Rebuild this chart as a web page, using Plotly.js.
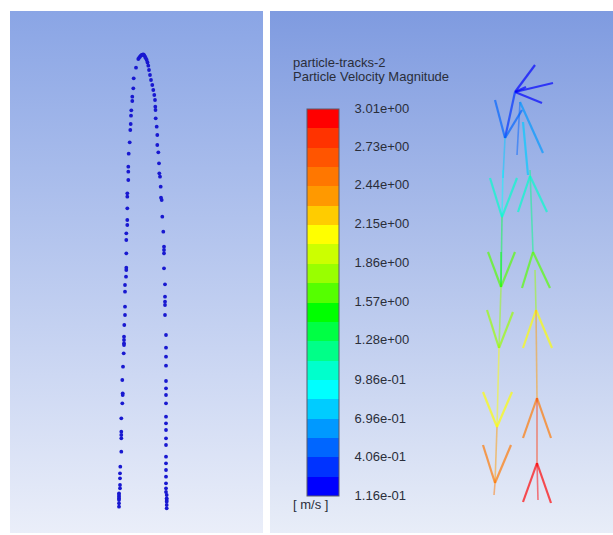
<!DOCTYPE html>
<html><head><meta charset="utf-8">
<script src="https://cdn.plot.ly/plotly-3.0.1.min.js"></script>
<style>
html,body{margin:0;padding:0;background:#fff;}
#chart{width:613px;height:535px;background:
 linear-gradient(#8aa5e5,#eaeef9) 10px 11px / 253px 522px no-repeat,
 linear-gradient(#7f9be0,#e8edf8) 270px 11px / 343px 522px no-repeat,#fff;}
</style></head><body><div id="chart"></div>
<script>
// ---- Left panel: particle positions (dots) ----
const dotX = [
  // apex
  138.3,139.2,140,140.8,141.7,142.5,143.3,144.2,145,145.8,146.7,
  // left leg
  136,133.7,133.3,132.3,132.3,131.3,131,130.7,130.3,129.7,128.7,128.3,128.3,128.3,127.3,127.3,127.3,127.3,127.3,126.3,126.3,126.3,126.3,126.3,
  126,125,125,125,125,124.3,124,124,124,124,123.7,123,122.3,122.7,122.7,122.3,121.3,121.3,121.3,121.3,121.3,120.3,120,120,120,120,119,119,119,119,119,119,119,
  // right leg
  147.5,148.3,149,150,151,152.3,153.3,154.3,155,155.3,155.5,155.7,156.7,157.3,157.3,158.3,159,159.3,160,160.7,161,161.7,162.3,163.3,164,164,164,164,
  165,165,165,165,165,166,166,166,166,166,166,166,166,166,166,166,166,166,166,166,166,166,166,166,166,166.7,166.7,166.7,166.7,166.7,166.7,166.7
];
const dotY = [
  59,57.7,56.7,55.6,55,54.6,54.3,55.2,56.7,58.2,60,
  67.7,78.3,88.3,96.7,101,110.3,115.7,124,130,142.3,153.7,166.7,171.7,180,193.3,196.7,208.3,220,225,233.3,240,253.3,267.7,270,
  276.7,285,291.7,306.7,315,325,336.7,340,343.3,345,353.3,366.7,380,393.3,395,403.3,418.3,431.7,435,438.3,451.7,466.7,473.3,478.3,485,488.3,493.3,495,496.7,498.5,500,503.3,506.7,
  62.5,65.7,70,75,80,85,90,95,100,106.7,110,118.3,126.7,135,145,152.3,163.3,173.3,176.7,186.7,197.7,200,216.7,231.7,246.7,250,253.3,268.3,
  284.3,296.7,301.7,305,315,335,347.7,356.7,365.7,381,388.3,395,403.3,416.7,423.3,430,438.3,445,456.7,463.3,470,476.7,483.3,488.3,492,495,498.3,500,501.7,505,508.3
];

// ---- Right panel: particle track segments ----
const trackX0 = [515,515,515,515,515,495,522,520,520,523,505,503,490,517,502,488,515,501,501,487,513,499,483,512,497,483,511,495,
                 530,530,530,533,533,535,536,536,536,537,537,537,537,537,537];
const trackY0 = [92,92,92,92,92,100,110,102,102,122,138,170,178,178,217,252,252,252,287,310,312,348,392,392,427,445,445,483,
                 170,176,176,252,252,270,310,310,310,398,398,398,463,463,463];
const trackX1 = [535,553,542,526,505,505,505,517,543,528,503,502,502,502,501,501,501,501,499,499,499,497,497,497,495,495,495,494,
                 533,518,547,522,550,536,523,552,537,523,551,537,523,551,538];
const trackY1 = [65,83,103,87,138,138,138,155,153,175,178,217,217,217,287,287,287,287,348,348,348,427,427,427,483,483,483,495,
                 252,212,212,288,288,310,348,348,398,438,438,463,502,503,500];
const trackSpeed = [0.12,0.14,0.2,0.2,0.35,0.55,0.5,0.55,0.6,0.8,0.8,0.95,1.0,1.0,1.3,1.6,1.6,1.55,1.75,1.85,1.85,2.0,2.1,2.1,2.3,2.45,2.45,2.5,
                    1.2,1.0,1.0,1.6,1.6,1.8,2.1,2.1,2.3,2.5,2.5,2.75,2.95,2.95,2.9];

// ---- Colour legend ----
const speedMin = 0.116, speedMax = 3.01;
const bandColors = ['#0000ff','#0033ff','#0066ff','#0099ff','#00ccff','#00ffff','#00ffcc','#00ff88','#00ff44','#00ff00',
                    '#55ff00','#99ff00','#ccff00','#ffff00','#ffcc00','#ff9900','#ff7700','#ff5500','#ff3300','#ff0000'];
const tickVals = [3.01,2.73,2.44,2.15,1.86,1.57,1.28,0.986,0.696,0.406,0.116];
const tickText = ['3.01e+00','2.73e+00','2.44e+00','2.15e+00','1.86e+00','1.57e+00','1.28e+00','9.86e-01','6.96e-01','4.06e-01','1.16e-01'];

const W = 613, H = 535;
const FONT = '"Liberation Sans", Arial, sans-serif';
const TXT = '#2a2e3a';

const scale = [];
bandColors.forEach((c, i) => { scale.push([i / 20, c]); scale.push([(i + 1) / 20, c]); });
function speedColor(v) {
  let i = Math.floor((v - speedMin) / (speedMax - speedMin) * 20);
  i = Math.max(0, Math.min(19, i));
  return bandColors[i];
}

const traces = [];
traces.push({
  type: 'scatter', mode: 'markers', x: dotX, y: dotY, xaxis: 'x', yaxis: 'y',
  marker: {size: 3.8, color: '#1818d0'}, hoverinfo: 'skip', showlegend: false
});
for (let i = 0; i < trackX0.length; i++) {
  const stem = Math.abs(trackX1[i] - trackX0[i]) < 4;
  traces.push({
    type: 'scatter', mode: 'lines', x: [trackX0[i], trackX1[i]], y: [trackY0[i], trackY1[i]],
    xaxis: 'x2', yaxis: 'y2', opacity: stem ? 0.5 : 0.68,
    line: {color: speedColor(trackSpeed[i]), width: stem ? 1.6 : 2.2}, hoverinfo: 'skip', showlegend: false
  });
}
traces.push({
  type: 'scatter', mode: 'markers', xaxis: 'x2', yaxis: 'y2',
  x: trackX0, y: trackY0, hoverinfo: 'skip', showlegend: false,
  marker: {
    size: 1, opacity: 0, color: trackSpeed, colorscale: scale, cmin: speedMin, cmax: speedMax, showscale: true,
    colorbar: {
      x: 307 / W, xanchor: 'left', xpad: 0,
      y: 1 - 302 / H, yanchor: 'middle', ypad: 0,
      len: 387, lenmode: 'pixels', thickness: 32, thicknessmode: 'pixels',
      outlinewidth: 1, outlinecolor: '#5a5a6a',
      tickmode: 'array', tickvals: tickVals, ticktext: tickText,
      ticks: 'outside', ticklen: 13, tickcolor: 'rgba(0,0,0,0)',
      tickfont: {family: FONT, size: 13, color: TXT}
    }
  }
});

const yDom = [(H - 533) / H, (H - 11) / H];
const hidden = {visible: false, showgrid: false, zeroline: false, fixedrange: true};
const layout = {
  width: W, height: H, margin: {l: 0, r: 0, t: 0, b: 0},
  paper_bgcolor: 'rgba(0,0,0,0)', plot_bgcolor: 'rgba(0,0,0,0)',
  showlegend: false,
  xaxis: Object.assign({domain: [10 / W, 263 / W], range: [10, 263]}, hidden),
  yaxis: Object.assign({domain: yDom, range: [533, 11]}, hidden),
  xaxis2: Object.assign({domain: [270 / W, 1], range: [270, 613], anchor: 'y2'}, hidden),
  yaxis2: Object.assign({domain: yDom, range: [533, 11], anchor: 'x2'}, hidden),
  annotations: [
    {text: 'particle-tracks-2', xref: 'paper', yref: 'paper', x: 291 / W, y: 1 - 63 / H, xanchor: 'left', yanchor: 'middle',
     showarrow: false, font: {family: FONT, size: 13, color: TXT}},
    {text: 'Particle Velocity Magnitude', xref: 'paper', yref: 'paper', x: 291 / W, y: 1 - 76.5 / H, xanchor: 'left', yanchor: 'middle',
     showarrow: false, font: {family: FONT, size: 13, color: TXT}},
    {text: '[ m/s ]', xref: 'paper', yref: 'paper', x: 291 / W, y: 1 - 504 / H, xanchor: 'left', yanchor: 'middle',
     showarrow: false, font: {family: FONT, size: 13, color: TXT}}
  ]
};
Plotly.newPlot('chart', traces, layout, {displayModeBar: false, staticPlot: true});
</script></body></html>
